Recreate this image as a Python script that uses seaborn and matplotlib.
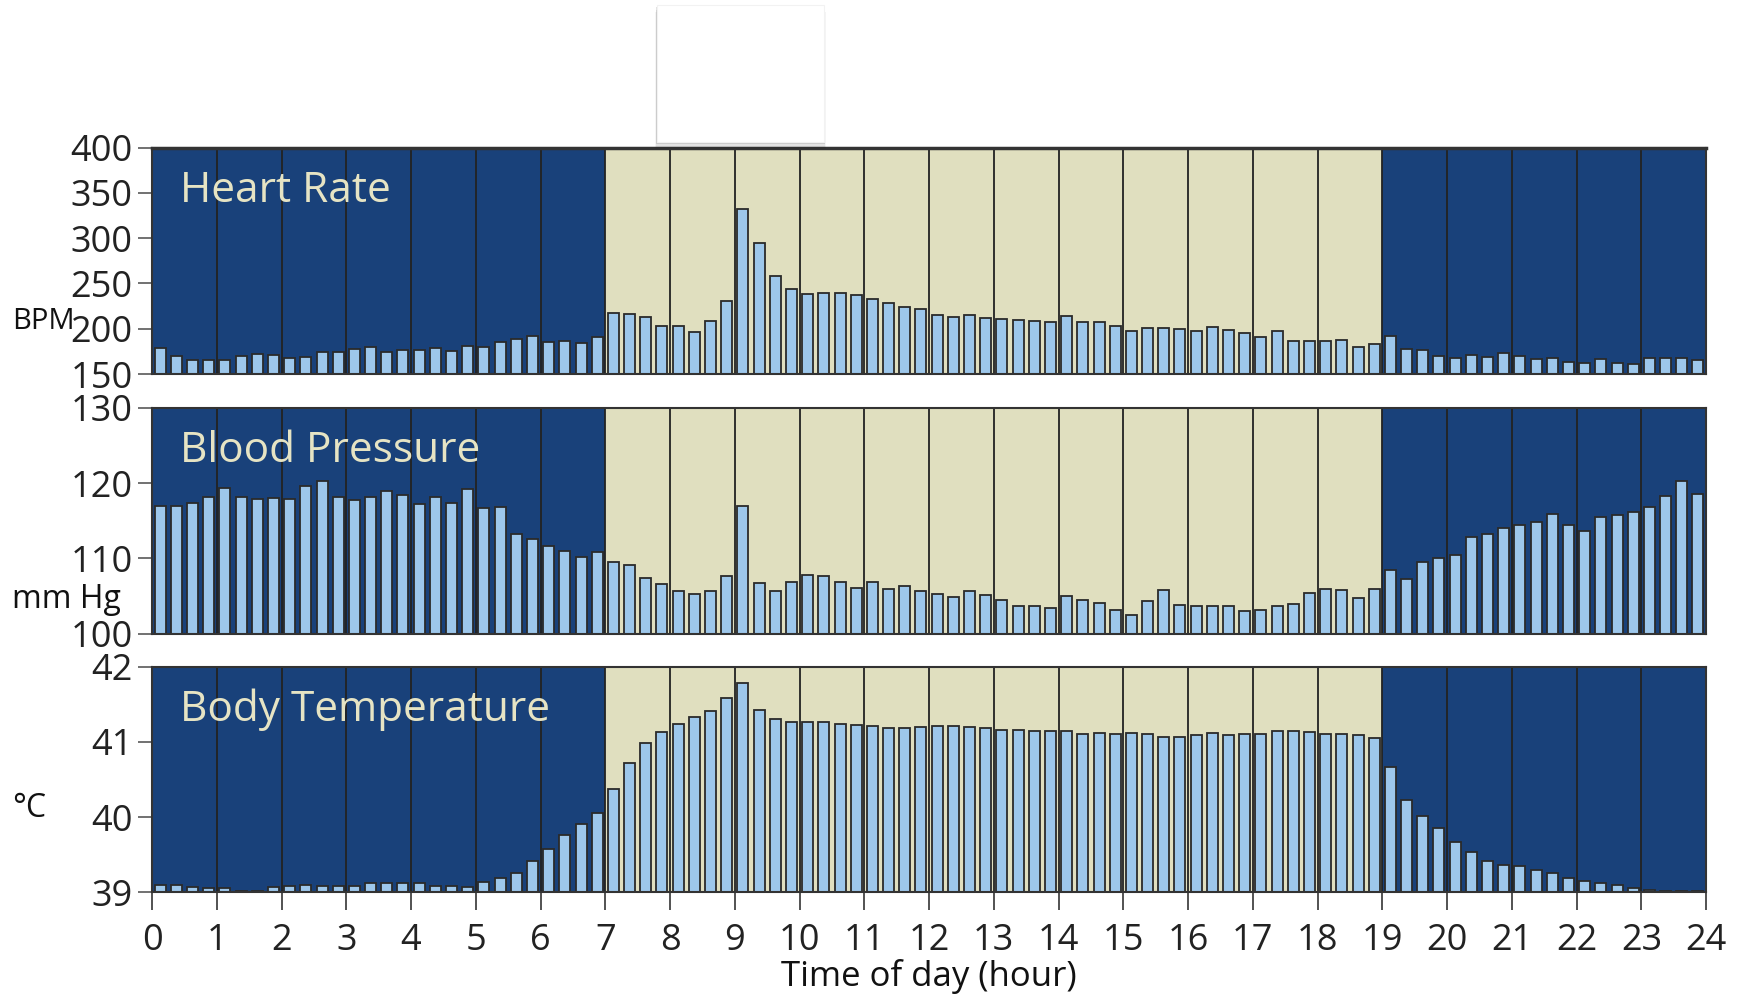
import numpy as np
import matplotlib
matplotlib.use('Agg')
import matplotlib.pyplot as plt
from matplotlib.patches import Rectangle
import seaborn as sns

# readings every 15 minutes, 96 per day
heart_rate = [
    178.6, 169.5, 165.8, 165.0, 166.0, 169.5, 172.4, 171.3,
    168.0, 168.7, 174.6, 173.9, 177.9, 180.0, 174.2, 176.8,
    176.0, 178.6, 175.0, 181.2, 180.0, 185.6, 188.9, 191.5,
    185.2, 186.7, 184.1, 190.4, 217.9, 216.1, 212.4, 202.5,
    202.9, 196.3, 208.0, 231.1, 332.1, 294.6, 258.7, 244.0,
    238.5, 239.9, 239.6, 237.7, 233.3, 228.2, 224.5, 222.0,
    215.7, 213.5, 215.3, 212.0, 210.9, 209.8, 208.7, 206.9,
    214.2, 206.9, 206.9, 202.5, 197.0, 200.3, 200.3, 199.9,
    197.4, 201.4, 198.8, 194.8, 191.1, 197.0, 186.7, 186.0,
    186.0, 187.8, 179.4, 182.7, 191.9, 177.2, 176.1, 169.5,
    168.0, 171.3, 169.1, 172.8, 169.8, 166.2, 168.0, 163.2,
    162.5, 166.2, 162.1, 160.6, 168.0, 168.0, 167.6, 165.0,
]
blood_pressure = [
    116.9, 116.9, 117.4, 118.1, 119.3, 118.1, 117.9, 118.0,
    117.9, 119.6, 120.3, 118.1, 117.7, 118.2, 118.9, 118.4,
    117.2, 118.1, 117.4, 119.2, 116.7, 116.8, 113.3, 112.6,
    111.7, 111.0, 110.2, 110.8, 109.5, 109.1, 107.4, 106.6,
    105.7, 105.2, 105.6, 107.6, 117.0, 106.7, 105.7, 106.8,
    107.8, 107.7, 106.9, 106.1, 106.8, 105.9, 106.3, 105.7,
    105.3, 104.9, 105.6, 105.1, 104.4, 103.7, 103.6, 103.4,
    105.0, 104.4, 104.0, 103.2, 102.5, 104.3, 105.8, 103.8,
    103.7, 103.6, 103.6, 103.0, 103.1, 103.7, 103.9, 105.4,
    105.9, 105.8, 104.7, 105.9, 108.5, 107.2, 109.5, 110.0,
    110.5, 112.9, 113.2, 114.1, 114.5, 114.9, 115.9, 114.4,
    113.6, 115.5, 115.7, 116.1, 116.8, 118.3, 120.3, 118.6,
]
body_temp = [
    39.09, 39.09, 39.07, 39.05, 39.05, 39.01, 39.02, 39.07,
    39.08, 39.09, 39.08, 39.08, 39.08, 39.12, 39.12, 39.12,
    39.12, 39.08, 39.08, 39.07, 39.13, 39.19, 39.26, 39.41,
    39.57, 39.76, 39.91, 40.06, 40.37, 40.72, 40.98, 41.13,
    41.24, 41.33, 41.41, 41.59, 41.78, 41.42, 41.30, 41.26,
    41.26, 41.27, 41.24, 41.23, 41.21, 41.19, 41.19, 41.20,
    41.21, 41.21, 41.20, 41.19, 41.16, 41.16, 41.14, 41.15,
    41.15, 41.11, 41.12, 41.11, 41.12, 41.10, 41.07, 41.06,
    41.09, 41.12, 41.09, 41.10, 41.11, 41.15, 41.15, 41.13,
    41.11, 41.10, 41.09, 41.05, 40.67, 40.23, 40.02, 39.85,
    39.67, 39.53, 39.42, 39.36, 39.35, 39.30, 39.25, 39.19,
    39.15, 39.12, 39.10, 39.06, 39.03, 39.02, 39.02, 39.02,
]

titles = ['Heart Rate', 'Blood Pressure', 'Body Temperature']
units = ['BPM', 'mm Hg', '°C']
y_limits = [(150, 400), (100, 130), (39, 42)]
y_ticks = [[150, 200, 250, 300, 350, 400], [100, 110, 120, 130], [39, 40, 41, 42]]
hour_ticks = list(range(25))
day_start, day_end = 7, 19

night = '#19417A'
day = '#E0DFBF'
bar_fill = '#9DC7EB'
title_col = '#E6E4C4'

sns.set_style('white')
plt.rcParams['font.family'] = ['Open Sans', 'DejaVu Sans']

times = np.arange(96) * 0.25 + 0.125

fig = plt.figure(figsize=(17.4, 9.94), dpi=100)
boxes = [
    [0.0874, 0.6237, 0.8931, 0.2279],
    [0.0874, 0.3626, 0.8931, 0.2270],
    [0.0874, 0.1026, 0.8931, 0.2264],
]
label_y = [0.677, 0.397, 0.187]
label_size = [21, 23, 23]

series = [heart_rate, blood_pressure, body_temp]
for i, (vals, pos) in enumerate(zip(series, boxes)):
    ax = fig.add_axes(pos)
    ax.set_facecolor(night)
    ax.axvspan(day_start, day_end, color=day, zorder=0, lw=0)
    ax.vlines(hour_ticks[1:-1], y_limits[i][0], y_limits[i][1],
              color='#222222', lw=1.3, zorder=0.5)
    sns.barplot(x=times, y=vals, ax=ax, native_scale=True, width=0.68,
                color=bar_fill, saturation=1, edgecolor='#2a2a2a',
                linewidth=1.3, errorbar=None)
    for p in ax.patches:
        if p.get_facecolor()[:3] != matplotlib.colors.to_rgb(day):
            p.set_zorder(2)
    ax.set_xlim(0, 24)
    ax.set_ylim(*y_limits[i])
    ax.set_yticks(y_ticks[i])
    ax.set_xlabel('')
    ax.set_ylabel('')
    for s in ax.spines.values():
        s.set_color('#333333')
        s.set_linewidth(1.5)
    ax.spines['top'].set_linewidth(2.5 if i == 0 else 1.5)
    ax.tick_params(axis='y', left=True, length=10, width=1.3, color='#666666',
                   labelsize=26, pad=4, labelcolor='#222222')
    if i < 2:
        ax.set_xticks([])
    else:
        ax.set_xticks(hour_ticks)
        ax.tick_params(axis='x', bottom=True, length=13, width=1.3, color='#444444',
                       labelsize=26, pad=9, labelcolor='#222222')
        ax.set_xlabel('Time of day (hour)', fontsize=25, labelpad=0, color='#111111')
    ax.text(0.018, 0.81, titles[i], transform=ax.transAxes, fontsize=30.5,
            color=title_col, va='center', ha='left', zorder=5)
    fig.text(0.007, label_y[i], units[i], fontsize=label_size[i], color='#111111',
             va='center', ha='left')

# blank floating box at the top with a soft shadow
for k, a in enumerate([0.04, 0.07, 0.11]):
    off = (3 - k) * 0.0013
    fig.patches.append(Rectangle((0.3776 - off * 0.3, 0.857 - off * 1.8), 0.096 + off * 0.6, 0.138,
                                 transform=fig.transFigure, facecolor='black',
                                 alpha=a, lw=0, zorder=9))
fig.patches.append(Rectangle((0.3776, 0.857), 0.096, 0.138, transform=fig.transFigure,
                             facecolor='white', edgecolor='#f2f2f2', lw=0.8, zorder=10))

plt.savefig('out.png', dpi=100)
